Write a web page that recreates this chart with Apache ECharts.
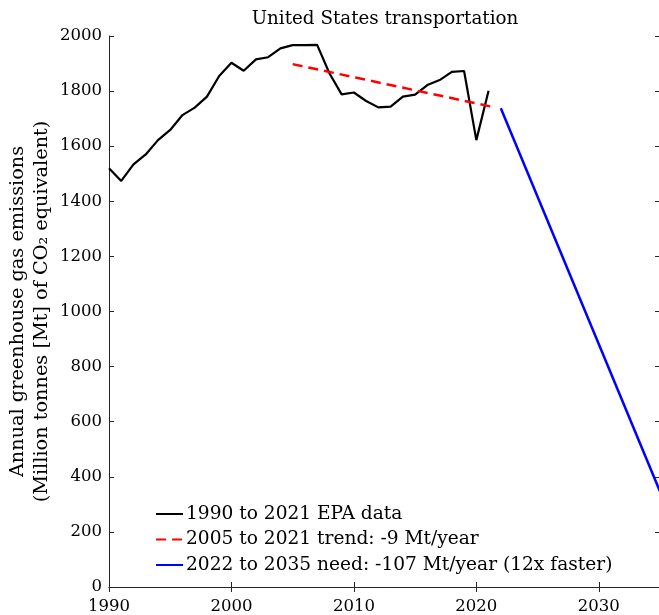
<!DOCTYPE html>
<html><head><meta charset="utf-8">
<script src="https://cdn.jsdelivr.net/npm/echarts@6/dist/echarts.min.js"></script>
<style>html,body{margin:0;padding:0;background:#fff}#c{width:659px;height:615px}</style>
</head><body><div id="c"></div>
<script>
const epaYears = [1990,1991,1992,1993,1994,1995,1996,1997,1998,1999,2000,2001,2002,2003,2004,2005,2006,2007,2008,2009,2010,2011,2012,2013,2014,2015,2016,2017,2018,2019,2020,2021];
const epaValues = [1520,1474,1534,1570,1622,1659,1713,1740,1780,1855,1903,1874,1915,1923,1955,1967,1967,1968,1865,1788,1795,1764,1741,1744,1780,1787,1822,1840,1870,1873,1622,1801];
const trendYears = [2005,2021.3];
const trendValues = [1898,1743];
const needYears = [2022,2035];
const needValues = [1738,347];
const xTicks = [1990,2000,2010,2020,2030];
const yTicks = [0,200,400,600,800,1000,1200,1400,1600,1800,2000];
const names = ['1990 to 2021 EPA data','2005 to 2021 trend: -9 Mt/year','2022 to 2035 need: -107 Mt/year (12x faster)'];

const zip = (a,b)=>a.map((x,i)=>[x,b[i]]);
const font = 'DejaVu Serif';
const axisCol = '#262626';
const chart = echarts.init(document.getElementById('c'));
const tickCommon = {show:true, inside:true, length:5, lineStyle:{color:axisCol}};
chart.setOption({
  animation:false,
  title:{text:'United States transportation', left:380, textAlign:'center', top:5,
    textStyle:{fontFamily:font, fontWeight:'normal', fontSize:18.3, color:'#000'}},
  grid:{left:109, top:36, width:551, height:551, outerBoundsMode:'none', containLabel:false},
  legend:{orient:'vertical', left:150, top:499, itemWidth:27, itemHeight:14, itemGap:5.5,
    data:names, itemStyle:{opacity:0},
    textStyle:{fontFamily:font, fontSize:18.6, lineHeight:20, color:'#000', padding:[0,0,0,-2]}},
  xAxis:[{type:'value', min:1990, max:2035, interval:10, position:'bottom',
    axisLine:{show:true, lineStyle:{color:axisCol}}, axisTick:tickCommon, splitLine:{show:false},
    axisLabel:{fontFamily:font, fontSize:16.5, color:'#000', margin:11, showMaxLabel:false,
      formatter:v=>xTicks.includes(v)?String(v):''}},
   {type:'value', min:1990, max:2035, interval:10, position:'top',
    axisLine:{show:true, lineStyle:{color:axisCol}}, axisTick:tickCommon, axisLabel:{show:false}, splitLine:{show:false}}],
  yAxis:[{type:'value', min:0, max:2000, interval:200, position:'left',
    axisLine:{show:true, lineStyle:{color:axisCol}}, axisTick:tickCommon, splitLine:{show:false},
    axisLabel:{fontFamily:font, fontSize:16.5, color:'#000', margin:7,
      formatter:v=>yTicks.includes(v)?String(v):''},
    name:'Annual greenhouse gas emissions\n(Million tonnes [Mt] of CO₂ equivalent)',
    nameLocation:'middle', nameGap:55, nameRotate:90, nameMoveOverlap:false,
    nameTextStyle:{fontFamily:font, fontSize:19.3, color:'#000', lineHeight:24}},
   {type:'value', min:0, max:2000, interval:200, position:'right',
    axisLine:{show:true, lineStyle:{color:axisCol}}, axisTick:tickCommon, axisLabel:{show:false}, splitLine:{show:false}}],
  series:[
    {name:names[0], type:'line', data:zip(epaYears,epaValues), symbol:'none',
      lineStyle:{color:'#000', width:2.2}, itemStyle:{color:'#000'}},
    {name:names[1], type:'line', data:zip(trendYears,trendValues), symbol:'none',
      lineStyle:{color:'#ff0000', width:2.5, type:[10,6]}, itemStyle:{color:'#ff0000'}},
    {name:names[2], type:'line', data:zip(needYears,needValues), symbol:'none',
      lineStyle:{color:'#0000ff', width:2.5}, itemStyle:{color:'#0000ff'}}
  ]
});
</script></body></html>
